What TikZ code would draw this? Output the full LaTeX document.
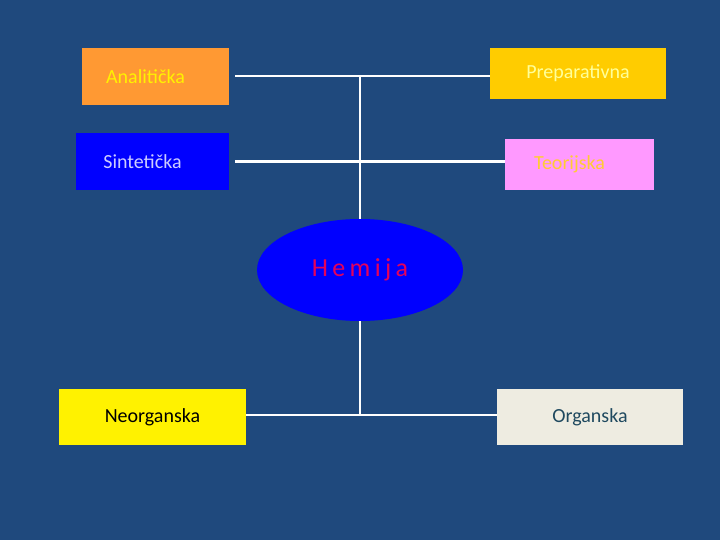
\documentclass[tikz,border=0pt]{standalone}
\usepackage{fontspec}
\setmainfont{Carlito}
\usetikzlibrary{shapes.geometric, positioning}
\definecolor{bg}{RGB}{31, 73, 125}
\definecolor{orangebox}{RGB}{255, 153, 51}
\definecolor{goldbox}{RGB}{255, 204, 0}
\definecolor{pinkbox}{RGB}{255, 153, 255}
\definecolor{greybox}{RGB}{238, 236, 225}
\definecolor{lighttext}{RGB}{255, 255, 153}
\definecolor{lavtext}{RGB}{204, 204, 255}
\definecolor{goldtext}{RGB}{255, 204, 51}
\definecolor{tealtext}{RGB}{31, 73, 95}
\definecolor{hemred}{RGB}{230, 0, 90}
\tikzstyle{branch} = [rectangle, inner sep=0pt, font=\fontsize{20}{24}\selectfont]
\tikzstyle{link} = [draw=white, line width=2.5pt]
\begin{document}
\begin{tikzpicture}[x=1pt, y=-1pt]
    \fill[bg] (0,0) rectangle (720,540);
    % Upper branches
    \node[branch, fill=orangebox, minimum width=147pt, minimum height=57pt, text=yellow] (anal) at (155.5,76.5) {\hspace*{-20pt}Analitička};
    \node[branch, fill=goldbox, minimum width=176pt, minimum height=51pt, text=lighttext] (prep) at (578,73.5) {Preparativna};
    \node[branch, fill=blue, minimum width=153pt, minimum height=57pt, text=lavtext] (sint) at (152.5,161.5) {\hspace*{-20pt}Sintetička};
    \node[branch, fill=pinkbox, minimum width=149pt, minimum height=51pt, text=goldtext] (teor) at (579.5,164.5) {\hspace*{-20pt}Teorijska};
    % Centre
    \node[ellipse, fill=blue, minimum width=206pt, minimum height=102pt, inner sep=0pt, text=hemred, font=\fontsize{26}{30}\selectfont] (hem) at (360,270) {H\,e\,m\,i\,j\,a};
    % Lower branches
    \node[branch, fill=yellow, minimum width=187pt, minimum height=56pt, text=black] (neor) at (152.5,417) {Neorganska};
    \node[branch, fill=greybox, minimum width=186pt, minimum height=56pt, text=tealtext] (org) at (590,417) {Organska};
    % Connectors
    \coordinate (top) at (360,76);
    \coordinate (low) at (360,415);
    \draw[link, shorten <=6pt] (anal.east |- top) -- (prep.west |- top);
    \draw[link, shorten <=6pt] (sint.east) -- (teor.west |- sint.east);
    \draw[link] (top) -- (hem.north);
    \draw[link] (hem.south) -- (low);
    \draw[link] (neor.east |- low) -- (org.west |- low);
\end{tikzpicture}
\end{document}
